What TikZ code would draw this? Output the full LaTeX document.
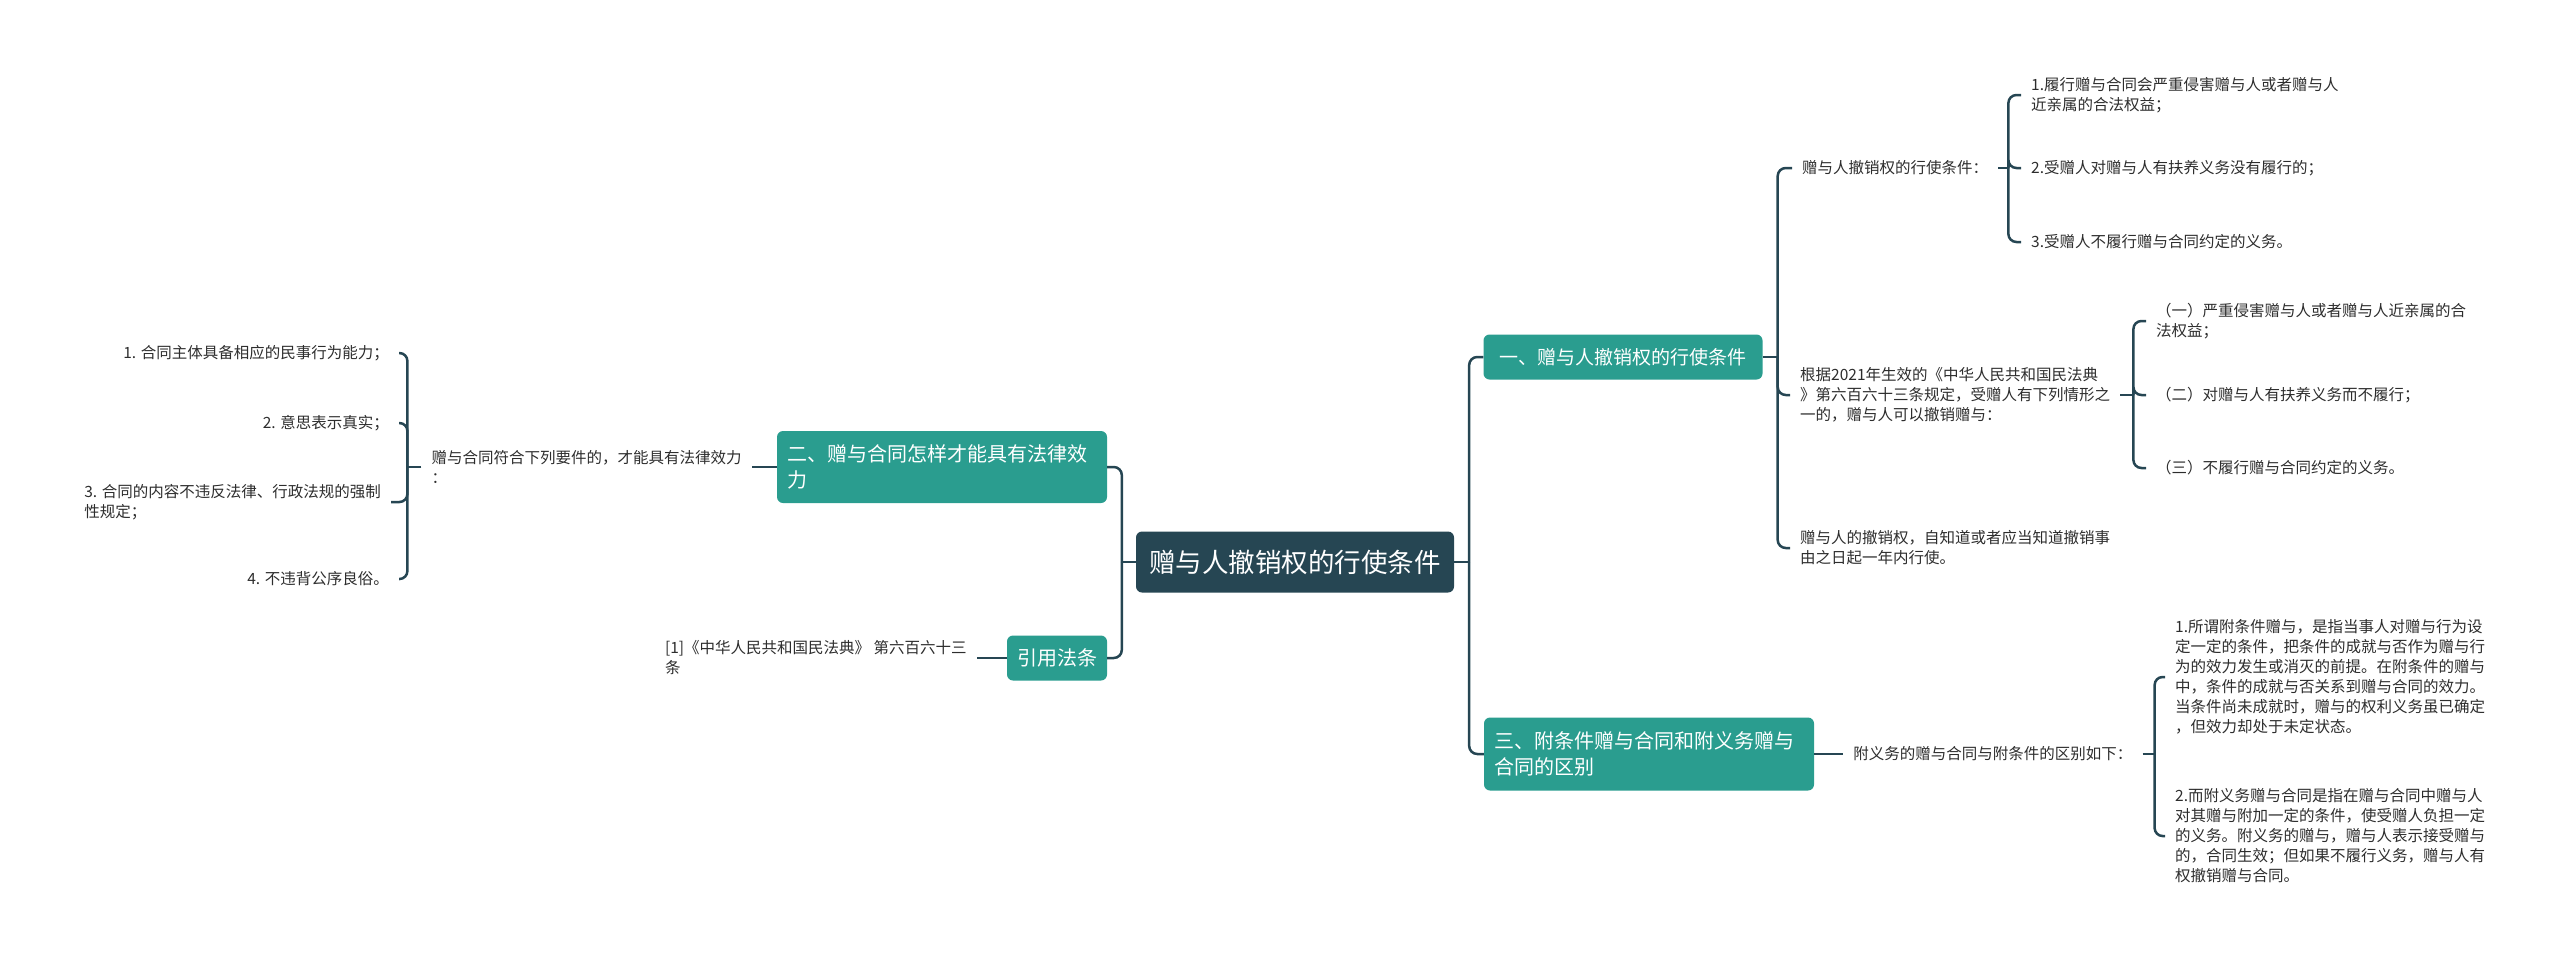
\documentclass[tikz,border=0pt]{standalone}
\usepackage{fontspec}
\setmainfont{Noto Sans CJK SC}
\usepackage{xcolor}
\usepackage{tikz}
\usetikzlibrary{positioning}
\definecolor{mydark}{RGB}{38,70,83}
\definecolor{myteal}{RGB}{42,157,143}
\definecolor{mytext}{RGB}{45,45,45}

\begin{document}
\begin{tikzpicture}[x=1pt, y=-1pt,
    rootbox/.style={fill=mydark, text=white, rounded corners=6pt, minimum width=318pt,
                    minimum height=61pt, inner sep=0pt, font=\fontsize{26.5pt}{32pt}\selectfont},
    topic/.style={fill=myteal, text=white, rounded corners=6pt, minimum height=45pt,
                  inner xsep=10pt, inner ysep=0pt, align=left, font=\fontsize{20pt}{26pt}\selectfont},
    leaf/.style={text=mytext, inner xsep=10pt, inner ysep=2pt, align=left,
                 font=\fontsize{15.5pt}{20pt}\selectfont},
    link/.style={draw=mydark, line width=2.5pt, rounded corners=8pt}]
  \useasboundingbox (0,0) rectangle (2560,959);

  % centre
  \node[rootbox] (root) at (1295,562) {赠与人撤销权的行使条件};
  \coordinate[left=14pt of root] (rootl);
  \coordinate[right=15pt of root] (rootr);

  % left: topic two
  \node[topic, text width=310pt, minimum height=72pt] (two) at (942,467)
        {二、赠与合同怎样才能具有法律效\\力};
  \node[leaf, left=25pt of two] (req) {赠与合同符合下列要件的，才能具有法律效力\\：};
  \coordinate[left=14pt of req] (reqj);
  \node[leaf, anchor=east] (r1) at (399,353) {1. 合同主体具备相应的民事行为能力；};
  \node[leaf, anchor=east] (r2) at (399,423) {2. 意思表示真实；};
  \node[leaf, anchor=east] (r3) at (391,502) {3. 合同的内容不违反法律、行政法规的强制\\性规定；};
  \node[leaf, anchor=east] (r4) at (399,579) {4. 不违背公序良俗。};

  % left: cited law
  \node[topic] (cite) at (1057,658) {引用法条};
  \node[leaf, left=30pt of cite] (law) {[1]《中华人民共和国民法典》 第六百六十三\\条};

  % right: topic one
  \node[topic, inner xsep=3pt, minimum width=279pt, font=\fontsize{19pt}{26pt}\selectfont]
        (one) at (1623,357) {一、赠与人撤销权的行使条件};
  \coordinate[right=15pt of one] (onej);
  \node[leaf, anchor=west] (cond) at (1792,168) {赠与人撤销权的行使条件：};
  \coordinate[right=10pt of cond] (condj);
  \node[leaf, anchor=west] (c1) at (2021,95) {1.履行赠与合同会严重侵害赠与人或者赠与人\\近亲属的合法权益；};
  \node[leaf, anchor=west] (c2) at (2021,168) {2.受赠人对赠与人有扶养义务没有履行的；};
  \node[leaf, anchor=west] (c3) at (2021,242) {3.受赠人不履行赠与合同约定的义务。};
  \node[leaf, anchor=west] (basis) at (1790,395)
        {根据2021年生效的《中华人民共和国民法典\\》第六百六十三条规定，受赠人有下列情形之\\一的，赠与人可以撤销赠与：};
  \coordinate[right=13pt of basis] (basisj);
  \node[leaf, anchor=west] (b1) at (2146,321) {（一）严重侵害赠与人或者赠与人近亲属的合\\法权益；};
  \node[leaf, anchor=west] (b2) at (2146,395) {（二）对赠与人有扶养义务而不履行；};
  \node[leaf, anchor=west] (b3) at (2146,468) {（三）不履行赠与合同约定的义务。};
  \node[leaf, anchor=west] (limit) at (1790,548)
        {赠与人的撤销权，自知道或者应当知道撤销事\\由之日起一年内行使。};

  % right: topic three
  \node[topic, text width=310pt, minimum height=73pt] (three) at (1649,754)
        {三、附条件赠与合同和附义务赠与\\合同的区别};
  \node[leaf, right=29pt of three] (diff) {附义务的赠与合同与附条件的区别如下：};
  \coordinate[right=12pt of diff] (diffj);
  \node[leaf, anchor=west] (d1) at (2165,677)
        {1.所谓附条件赠与，是指当事人对赠与行为设\\定一定的条件，把条件的成就与否作为赠与行\\为的效力发生或消灭的前提。在附条件的赠与\\中，条件的成就与否关系到赠与合同的效力。\\当条件尚未成就时，赠与的权利义务虽已确定\\，但效力却处于未定状态。};
  \node[leaf, anchor=west] (d2) at (2165,836)
        {2.而附义务赠与合同是指在赠与合同中赠与人\\对其赠与附加一定的条件，使受赠人负担一定\\的义务。附义务的赠与，赠与人表示接受赠与\\的，合同生效；但如果不履行义务，赠与人有\\权撤销赠与合同。};

  % connectors
  \draw[link] (root.west) -- (rootl);
  \draw[link] (root.east) -- (rootr);
  \foreach \c in {two,cite} \draw[link] (rootl) |- (\c.east);
  \foreach \c in {one,three} \draw[link] (rootr) |- (\c.west);
  \draw[link] (two) -- (req);
  \draw[link] (req.west) -- (reqj);
  \foreach \c in {r1,r2,r3,r4} \draw[link] (reqj) |- (\c.east);
  \draw[link] (cite) -- (law);
  \draw[link] (one.east) -- (onej);
  \foreach \c in {cond,basis,limit} \draw[link] (onej) |- (\c.west);
  \draw[link] (cond.east) -- (condj);
  \foreach \c in {c1,c2,c3} \draw[link] (condj) |- (\c.west);
  \draw[link] (basis.east) -- (basisj);
  \foreach \c in {b1,b2,b3} \draw[link] (basisj) |- (\c.west);
  \draw[link] (three) -- (diff);
  \draw[link] (diff.east) -- (diffj);
  \foreach \c in {d1,d2} \draw[link] (diffj) |- (\c.west);
\end{tikzpicture}
\end{document}
